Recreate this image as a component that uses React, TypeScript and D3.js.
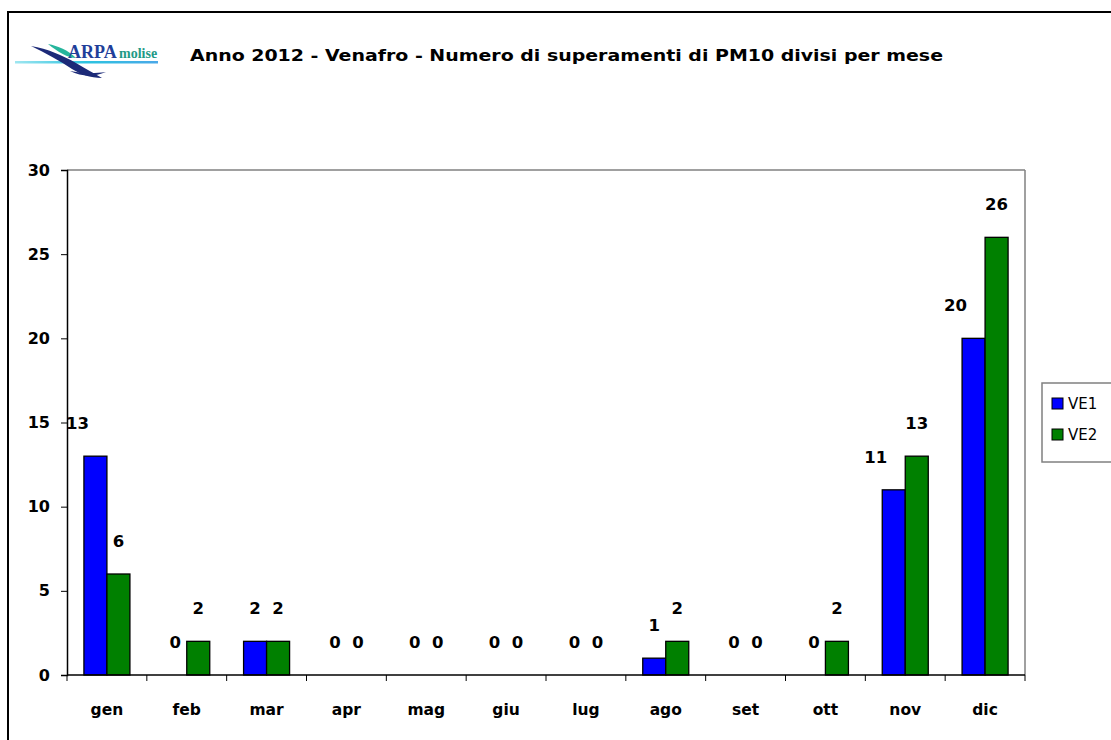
import React from 'react';
import * as d3 from 'd3';

// data
const months = ['gen', 'feb', 'mar', 'apr', 'mag', 'giu', 'lug', 'ago', 'set', 'ott', 'nov', 'dic'];
const seriesNames = ['VE1', 'VE2'];
const ve1 = [13, 0, 2, 0, 0, 0, 0, 1, 0, 0, 11, 20];
const ve2 = [6, 2, 2, 0, 0, 0, 0, 2, 0, 2, 13, 26];
const yTicks = [0, 5, 10, 15, 20, 25, 30];
const colors = ['#0000FF', '#008000'];

const titleText = 'Anno 2012 - Venafro - Numero di superamenti di PM10 divisi per mese';
const FONT = '"Comic Sans MS", "DejaVu Sans", sans-serif';

function App() {
  const ref = React.useRef<SVGSVGElement>(null);

  React.useEffect(() => {
    document.body.style.margin = '0';
    const svg = d3.select(ref.current);
    svg.selectAll('*').remove();

    const left = 67, right = 1025, top = 170, bottom = 675;

    // outer frame
    svg.append('line').attr('x1', 8).attr('x2', 1111).attr('y1', 12).attr('y2', 12)
      .attr('stroke', '#000').attr('stroke-width', 2);
    svg.append('line').attr('x1', 8).attr('x2', 8).attr('y1', 11).attr('y2', 740)
      .attr('stroke', '#000').attr('stroke-width', 2);

    // logo
    const logo = svg.append('g');
    const grad = svg.append('defs').append('linearGradient').attr('id', 'cy');
    grad.append('stop').attr('offset', '0%').attr('stop-color', '#9fe6f0');
    grad.append('stop').attr('offset', '50%').attr('stop-color', '#2cc3e0');
    grad.append('stop').attr('offset', '100%').attr('stop-color', '#4aa8e8');
    logo.append('rect').attr('x', 15).attr('y', 61).attr('width', 143).attr('height', 2.5).attr('fill', 'url(#cy)');
    logo.append('path')
      .attr('d', 'M31,46 C48,49 62,55 76,63 C86,69 94,73 102,78 C90,78 80,74 72,69 C60,61 46,53 31,46 Z')
      .attr('fill', '#1c2a78');
    logo.append('path')
      .attr('d', 'M48,44 C58,46 68,50 76,58 C68,58 58,52 48,44 Z')
      .attr('fill', '#25b59c');
    logo.append('path')
      .attr('d', 'M70,71 C80,73 92,74 106,72 C94,77 82,77 70,71 Z')
      .attr('fill', '#1c2a78');
    logo.append('text').attr('x', 68).attr('y', 58).text('ARPA')
      .attr('font-family', '"Liberation Serif", serif').attr('font-weight', 'bold')
      .attr('font-size', 18).attr('fill', '#1f3f9a');
    logo.append('text').attr('x', 119).attr('y', 58).text('molise')
      .attr('font-family', '"Liberation Serif", serif').attr('font-weight', 'bold')
      .attr('font-size', 14).attr('fill', '#1f9a86');

    // title
    svg.append('text').attr('x', 190).attr('y', 61).text(titleText)
      .attr('font-family', FONT).attr('font-weight', 'bold').attr('font-size', 16)
      .attr('textLength', 753).attr('lengthAdjust', 'spacingAndGlyphs');

    // scales
    const x0 = d3.scaleBand().domain(months).range([left, right]);
    const step = x0.bandwidth();
    const x1 = d3.scaleBand().domain(seriesNames).range([(step - 46) / 2, (step + 46) / 2]);
    const y = d3.scaleLinear().domain([0, 30]).range([bottom, top]);

    // plot border (gray top/right)
    svg.append('line').attr('x1', left).attr('x2', right).attr('y1', top).attr('y2', top)
      .attr('stroke', '#808080').attr('stroke-width', 1.5);
    svg.append('line').attr('x1', right).attr('x2', right).attr('y1', top).attr('y2', bottom)
      .attr('stroke', '#808080').attr('stroke-width', 1.5);

    // bars
    const rows = months.map((m, i) => ({ m, vals: [ve1[i], ve2[i]] }));
    const groups = svg.append('g').selectAll('g').data(rows).enter().append('g')
      .attr('transform', d => `translate(${x0(d.m)},0)`);
    groups.selectAll('rect')
      .data(d => d.vals.map((v, k) => ({ v, k })).filter(e => e.v > 0))
      .enter().append('rect')
      .attr('x', e => x1(seriesNames[e.k])!)
      .attr('width', x1.bandwidth())
      .attr('y', e => y(e.v))
      .attr('height', e => bottom - y(e.v))
      .attr('fill', e => colors[e.k])
      .attr('stroke', '#000').attr('stroke-width', 1.3);
    groups.selectAll('text')
      .data(d => d.vals.map((v, k) => ({ v, k })))
      .enter().append('text')
      .attr('x', e => x1(seriesNames[e.k])! + x1.bandwidth() / 2 - (e.k === 0 && e.v >= 10 ? 18 : 0))
      .attr('y', e => y(e.v) - 27)
      .attr('text-anchor', 'middle')
      .attr('font-family', FONT).attr('font-weight', 'bold').attr('font-size', 16.5)
      .text(e => e.v);

    // y axis
    const ya = svg.append('g').attr('transform', `translate(${left},0)`)
      .call(d3.axisLeft(y).tickValues(yTicks).tickSize(6).tickPadding(11));
    ya.select('.domain').attr('stroke', '#000').attr('stroke-width', 1.5);
    ya.selectAll('text').attr('font-family', FONT).attr('font-weight', 'bold').attr('font-size', 16)
      .attr('fill', '#000');

    // x axis
    const xa = svg.append('g').attr('transform', `translate(0,${bottom})`);
    xa.append('line').attr('x1', left).attr('x2', right).attr('stroke', '#000').attr('stroke-width', 1.5);
    xa.selectAll('line.tk').data(d3.range(months.length + 1)).enter().append('line')
      .attr('class', 'tk')
      .attr('x1', i => left + i * step).attr('x2', i => left + i * step)
      .attr('y1', 0).attr('y2', 6).attr('stroke', '#000');
    xa.selectAll('text').data(months).enter().append('text')
      .attr('x', m => x0(m)! + step / 2).attr('y', 40)
      .attr('text-anchor', 'middle')
      .attr('font-family', FONT).attr('font-weight', 'bold').attr('font-size', 15.5)
      .text(m => m);

    // legend
    const lg = svg.append('g');
    lg.append('rect').attr('x', 1042).attr('y', 383).attr('width', 80).attr('height', 79)
      .attr('fill', '#fff').attr('stroke', '#808080').attr('stroke-width', 1.5);
    seriesNames.forEach((s, i) => {
      lg.append('rect').attr('x', 1052).attr('y', 398 + i * 31).attr('width', 11).attr('height', 11)
        .attr('fill', colors[i]).attr('stroke', '#000');
      lg.append('text').attr('x', 1068).attr('y', 409 + i * 31).text(s)
        .attr('font-family', '"DejaVu Sans", sans-serif').attr('font-size', 15);
    });
  }, []);

  return (
    <svg ref={ref} width={1111} height={740}
      style={{ display: 'block', position: 'absolute', left: 0, top: 0, background: '#fff' }} />
  );
}

export default App;
